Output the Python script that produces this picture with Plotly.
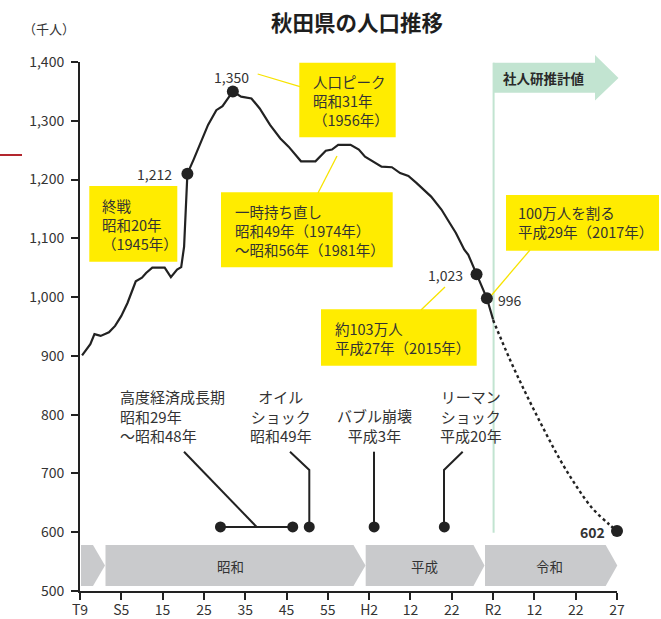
import plotly.graph_objects as go

# ---------------- data ----------------
obs_years = [1920.5, 1922.5, 1923.5, 1925, 1927, 1928.5, 1930, 1931.5, 1933.5, 1935, 1936, 1937.5,
             1940.5, 1942, 1943.5, 1944.5, 1945.2, 1946, 1947.5, 1949, 1951, 1953, 1954.5, 1957,
             1959, 1961.5, 1963.5, 1966, 1968.5, 1970.5, 1973.5, 1977, 1979.5, 1981, 1982.5,
             1985.5, 1987.5, 1989, 1993, 1995.5, 1997.5, 1999.5, 2001.5, 2005, 2007.5, 2009.5,
             2011, 2013, 2014, 2016, 2018.5, 2020]
obs_vals = [901, 920, 937, 934, 940, 951, 968, 990, 1027, 1033, 1041, 1050,
            1050, 1034, 1047, 1051, 1086, 1210, 1234, 1259, 1293, 1318, 1325, 1350,
            1341, 1338, 1321, 1293, 1270, 1256, 1231, 1231, 1249, 1251, 1259,
            1259, 1251, 1239, 1222, 1221, 1211, 1206, 1194, 1171, 1149, 1126,
            1109, 1081, 1072, 1039, 998, 962]

proj_years = [2020, 2024, 2028, 2032, 2036, 2040, 2042, 2044, 2045]
proj_vals = [961, 895, 835, 779, 726, 680, 641, 614, 602]

point_years = [1946, 1957, 2016, 2018.5, 2045]
point_vals = [1210, 1350, 1039, 998, 602]
point_labels = ["1,212", "1,350", "1,023", "996", "602"]

event_years = [1954, 1971.5, 1975.5, 1991.2, 2008.2]
event_level = 609

tick_years = [1920, 1930, 1940, 1950, 1960, 1970, 1980, 1990, 2000, 2010, 2020, 2030, 2040, 2045]
tick_labels = ["T9", "S5", "15", "25", "35", "45", "55", "H2", "12", "22", "R2", "12", "22", "27"]
y_ticks = [500, 600, 700, 800, 900, 1000, 1100, 1200, 1300, 1400]

eras = ["昭和", "平成", "令和"]


def pos(year):
    # axis: 10-year steps, last step (2040-2045) is 5 years drawn at the same width
    return year if year <= 2040 else 2040 + 2 * (year - 2040)


# ---------------- layout helpers (pixel -> paper) ----------------
W, H = 661, 619
L, R, T, B = 80, 617, 62, 591


def fx(px):
    return (px - L) / (R - L)


def fy(py):
    return (B - py) / (B - T)


FONT = "Noto Sans CJK JP"
DARK = "#222222"
TXT = "#333333"
YEL = "#ffec00"
YEL_LINE = "#f7e300"
GREEN = "#c2e4d1"
GRAY = "#c9cacc"

shapes = []
annots = []


def rect(x0, y0, x1, y1, color, layer="below"):
    shapes.append(dict(type="rect", xref="paper", yref="paper", x0=fx(x0), x1=fx(x1),
                       y0=fy(y1), y1=fy(y0), fillcolor=color, line_width=0, layer=layer))


def poly(pts, color, layer="below"):
    d = "M " + " L ".join(f"{fx(a):.5f},{fy(b):.5f}" for a, b in pts) + " Z"
    shapes.append(dict(type="path", xref="paper", yref="paper", path=d,
                       fillcolor=color, line_width=0, layer=layer))


def polyline(pts, color, width, layer="above"):
    d = "M " + " L ".join(f"{fx(a):.5f},{fy(b):.5f}" for a, b in pts)
    shapes.append(dict(type="path", xref="paper", yref="paper", path=d,
                       line=dict(color=color, width=width), layer=layer))


def text(s, px, py, size=14.5, xanchor="left", align="left", color=TXT, bold=False):
    if bold:
        s = "<b>" + s + "</b>"
    annots.append(dict(text=s, xref="paper", yref="paper", x=fx(px), y=fy(py),
                       xanchor=xanchor, yanchor="middle", align=align, showarrow=False,
                       font=dict(family=FONT, size=size, color=color)))


# era bands (pentagon arrows)
band_px = [(81, 93, 105), (105.5, 353.5, 365.5), (365.7, 473.5, 484.5), (485, 605.7, 617.3)]
for x0, x1, tip in band_px:
    poly([(x0, 545), (x1, 545), (tip, 565.5), (x1, 586), (x0, 586)], GRAY)
for name, cx in zip(eras, [230.7, 424, 549]):
    text(name, cx, 565.5, size=13.5, xanchor="center", align="center")

# projection banner + line
poly([(493, 62.7), (595, 62.7), (595, 55), (618.5, 78), (595, 100.5), (595, 92.7), (493, 92.7)], GREEN)
shapes.append(dict(type="line", xref="paper", yref="paper", x0=fx(493.6), x1=fx(493.6),
                   y0=fy(532.7), y1=fy(62.7), line=dict(color=GREEN, width=2), layer="below"))
text("社人研推計値", 501, 78, size=13.5, color="#2a2a2a", bold=True)

# yellow callouts
polyline([(257.7, 74), (300, 86.7)], YEL_LINE, 1.3)
polyline([(337, 156), (318, 193)], YEL_LINE, 1.3)
polyline([(445, 287), (421, 310)], YEL_LINE, 1.3)
polyline([(530, 250), (491.7, 295)], YEL_LINE, 1.3)

rect(299.3, 62.7, 395.7, 137.3, YEL)
text("人口ピーク<br>昭和31年<br>（1956年）", 311, 100)
rect(89.3, 186, 177.3, 261.7, YEL)
text("終戦<br>昭和20年<br>（1945年）", 100, 224.5)
rect(221, 192.3, 392.7, 267.3, YEL)
text("一時持ち直し<br>昭和49年（1974年）<br>～昭和56年（1981年）", 232.5, 230.7)
rect(321, 309.3, 476.7, 365.7, YEL)
text("約103万人<br>平成27年（2015年）", 332.5, 337.5)
rect(506, 195, 659, 250.7, YEL)
text("100万人を割る<br>平成29年（2017年）", 515.5, 222.3)

# value labels
for lab, (cx, cy) in zip(point_labels, [(154.7, 174), (231, 76.7), (445.3, 275), (510, 300), (592.5, 532.3)]):
    text(lab, cx, cy, size=14, xanchor="center", align="center", color=TXT, bold=(lab == "602"))

# events (bottom)
text("高度経済成長期<br>昭和29年<br>～昭和48年", 117.5, 416, size=15)
text("オイル<br>ショック<br>昭和49年", 280.5, 416, size=15, xanchor="center", align="center")
text("バブル崩壊<br>平成3年", 374.5, 425.5, size=15, xanchor="center", align="center")
text("リーマン<br>ショック<br>平成20年", 470.5, 416, size=15, xanchor="center", align="center")
polyline([(184, 451.7), (256.7, 527)], DARK, 2)
polyline([(290, 451.7), (309.3, 470), (309.3, 527)], DARK, 2)
polyline([(374, 451.7), (374, 527)], DARK, 2)
polyline([(462.7, 451.7), (444, 470), (444, 527)], DARK, 2)

# title and unit
text("秋田県の人口推移", 356.5, 21.5, size=21.5, xanchor="center", align="center", color="#1e1e1e", bold=True)
text("（千人）", 48.5, 28, size=13, xanchor="center", align="center")

# stray red mark at left edge
shapes.append(dict(type="line", xref="paper", yref="paper", x0=fx(0), x1=fx(22),
                   y0=fy(155), y1=fy(155), line=dict(color="#b3262e", width=2), layer="above"))

# ---------------- traces ----------------
fig = go.Figure()
fig.add_trace(go.Scatter(x=[pos(y) for y in obs_years], y=obs_vals, mode="lines",
                         line=dict(color=DARK, width=2.2), hoverinfo="skip"))
fig.add_trace(go.Scatter(x=[pos(y) for y in proj_years], y=proj_vals, mode="lines",
                         line=dict(color=DARK, width=2.4, dash="3px,3px", shape="spline", smoothing=1),
                         hoverinfo="skip"))
fig.add_trace(go.Scatter(x=[pos(y) for y in point_years], y=point_vals, mode="markers",
                         marker=dict(color=DARK, size=12), cliponaxis=False, hoverinfo="skip"))
fig.add_trace(go.Scatter(x=[pos(y) for y in event_years[:2]], y=[event_level] * 2, mode="lines+markers",
                         line=dict(color=DARK, width=2), marker=dict(color=DARK, size=11), hoverinfo="skip"))
fig.add_trace(go.Scatter(x=[pos(y) for y in event_years[2:]], y=[event_level] * 3, mode="markers",
                         marker=dict(color=DARK, size=11), hoverinfo="skip"))

fig.update_layout(
    width=W, height=H, showlegend=False,
    margin=dict(l=L, r=W - R, t=T, b=H - B, pad=0, autoexpand=False),
    paper_bgcolor="white", plot_bgcolor="white",
    font=dict(family=FONT, color=TXT, size=14),
    shapes=shapes, annotations=annots,
    xaxis=dict(range=[1920, 2050], tickvals=[pos(y) for y in tick_years], ticktext=tick_labels,
               showgrid=False, zeroline=False, showline=True, linecolor=DARK, linewidth=2,
               ticks="outside", ticklen=7, tickwidth=2, tickcolor=DARK, automargin=False,
               ticklabelstandoff=-2,
               tickfont=dict(family=FONT, size=14, color=TXT), fixedrange=True),
    yaxis=dict(range=[500, 1400], tickvals=y_ticks, tickformat=",",
               showgrid=False, zeroline=False, showline=True, linecolor=DARK, linewidth=2,
               ticks="outside", ticklen=7, tickwidth=2, tickcolor=DARK, ticklabelstandoff=4,
               automargin=False,
               tickfont=dict(family=FONT, size=14, color=TXT), fixedrange=True),
)

fig.write_html("out.html")
